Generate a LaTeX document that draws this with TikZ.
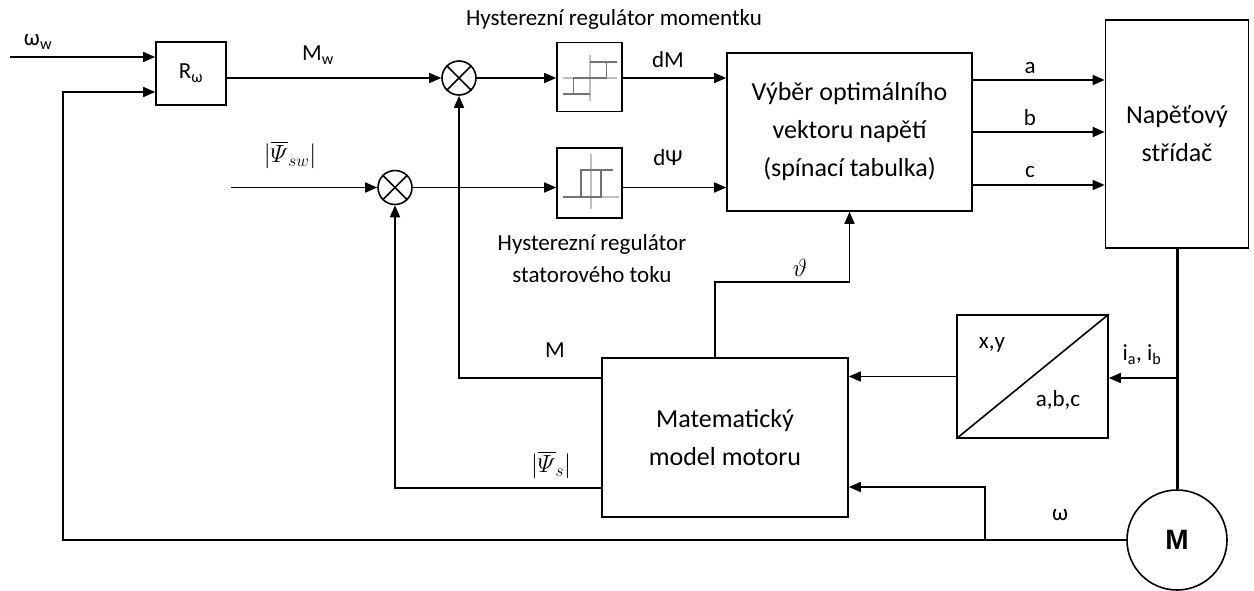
\documentclass[tikz,border=0pt]{standalone}
\usepackage{amsmath}
\usepackage{fontspec}
\setmainfont{Carlito}
\newfontfamily\armo{Liberation Sans}
\usetikzlibrary{arrows.meta,calc}
\tikzset{
 blk/.style={draw, line width=1.6pt, inner sep=0pt},
 ln/.style={line width=1.6pt},
 arr/.style={ln, -{Triangle[length=12pt,width=10pt]}},
 lbl/.style={font=\fontsize{23}{27}\selectfont, inner sep=0pt},
 btxt/.style={font=\fontsize{26}{38}\selectfont, align=center},
 sumc/.style={draw, circle, line width=1.6pt, minimum size=34pt, inner sep=0pt},
 hyc/.style={draw=black!55, line width=1.4pt},
 hyax/.style={draw=black!25, line width=1.2pt},
}
\begin{document}
\begin{tikzpicture}[x=1pt,y=-1pt]
\useasboundingbox (0,0) rectangle (1254,590);
% blocks
\node[blk, minimum width=70pt, minimum height=63pt, font=\fontsize{23}{27}\selectfont] (Rw) at (191,73.5) {R\textsubscript{ω}};
\node[sumc] (c1) at (459,78) {};
\node[sumc] (c2) at (395,187.5) {};
\node[blk, minimum width=65pt, minimum height=69pt] (h1) at (589.5,77) {};
\node[blk, minimum width=65pt, minimum height=70pt] (h2) at (589.5,183) {};
\node[blk, btxt, minimum width=245pt, minimum height=158pt] (sel) at (849.5,132) {Výběr optimálního\\vektoru napětí\\(spínací tabulka)};
\node[blk, btxt, minimum width=143pt, minimum height=228pt] (inv) at (1177,134) {Napěťový\\střídač};
\node[blk, minimum width=151pt, minimum height=123pt] (xy) at (1032.5,376.5) {};
\node[blk, btxt, minimum width=246pt, minimum height=159pt] (mod) at (725,437.5) {Matematický\\model motoru};
\node[blk, circle, minimum size=100pt] (mot) at (1177,540) {\fontsize{28}{30}\armo\bfseries M};
% summation crosses
\foreach \c in {c1,c2}{
  \draw[line width=1.6pt] (\c.north west) -- (\c.south east);
  \draw[line width=1.6pt] (\c.north east) -- (\c.south west);
}
% hysteresis icons
\begin{scope}[shift={(h1.center)}]
  \draw[hyax] (0.5,-22) -- (0.5,24);
  \draw[hyax] (-27,1) -- (27,1);
  \draw[hyc] (-27,17) -- (0,17);
  \draw[hyc] (-16,17) -- (-16,1) -- (17,1) -- (17,-15);
  \draw[hyc] (0,-15) -- (27,-15);
\end{scope}
\begin{scope}[shift={(h2.center)}]
  \draw[hyax] (1.5,-29) -- (1.5,26);
  \draw[hyax] (-27,14) -- (29,14);
  \draw[hyc] (-27,14) -- (11.5,14) -- (11.5,-13);
  \draw[hyc] (-8.5,14) -- (-8.5,-13) -- (23.5,-13);
\end{scope}
% xy/abc converter
\draw[line width=1.6pt] (xy.south west) -- (xy.north east);
\node[lbl] (lxy) at (992,345) {x,y};
\node[lbl] (labc) at (1058,400) {a,b,c};
% coordinates
\coordinate (wIn) at (10,57);
\coordinate (fbC) at (63,92);
\coordinate (psIn) at (231,187.5);
\coordinate (ya) at (0,80);
\coordinate (yb) at (0,132);
\coordinate (yc) at (0,185);
\coordinate (iab) at (1177,378);
\coordinate (wb) at (985,540);
\coordinate (wm) at (985,487);
\coordinate (th1) at (715,282);
\coordinate (mo) at (0,378);
\coordinate (po) at (0,488);
% connectors
\draw[arr] (wIn) -- (wIn -| Rw.west);
\draw[arr] (mot.west) -| (fbC) -- (fbC -| Rw.west);
\draw[arr] (Rw.east |- c1) -- (c1.west);
\draw[arr] (c1.east) -- (c1.east -| h1.west);
\draw[arr] (h1.east |- c1) -- (sel.west |- c1);
\draw[arr] (psIn) -- (c2.west);
\draw[arr] (c2.east) -- (c2.east -| h2.west);
\draw[arr] (h2.east |- c2) -- (sel.west |- c2);
\draw[arr] (sel.east |- ya) -- (inv.west |- ya);
\draw[arr] (sel.east |- yb) -- (inv.west |- yb);
\draw[arr] (sel.east |- yc) -- (inv.west |- yc);
\draw[line width=3pt] (inv.south) -- (mot.north);
\draw[arr] (iab) -- (xy.east |- iab);
\draw[arr] (xy.west) -- (xy.west -| mod.east);
\draw[arr] (wb) -- (wm) -- (wm -| mod.east);
\draw[arr] (th1 |- mod.north) -- (th1) -| (sel.south);
\draw[arr] (mod.west |- mo) -| (c1.south);
\draw[arr] (mod.west |- po) -| (c2.south);
% labels
\node[lbl] (lww) at (38,42) {ω\textsubscript{w}};
\node[lbl] (lmw) at (318,55) {M\textsubscript{w}};
\node[lbl] (ldm) at (668,60) {dM};
\node[lbl] (ldp) at (668,158) {dΨ};
\node[lbl, font=\fontsize{26}{30}\selectfont] (lpsw) at (290,155) {$\lvert\overline{\varPsi}_{sw}\rvert$};
\node[lbl] (lh1) at (614,19) {Hysterezní regulátor momentku};
\node[lbl, align=center, font=\fontsize{23}{32}\selectfont] (lh2) at (592,259) {Hysterezní regulátor\\statorového toku};
\node[lbl] (la) at (1030,68) {a};
\node[lbl] (lb) at (1030,118) {b};
\node[lbl] (lc) at (1030,172) {c};
\node[lbl] (lth) at (800,268) {$\vartheta$};
\node[lbl] (lm) at (555,350) {M};
\node[lbl, font=\fontsize{26}{30}\selectfont] (lps) at (551,465) {$\lvert\overline{\varPsi}_{s}\rvert$};
\node[lbl] (liab) at (1142,355) {i\textsubscript{a}, i\textsubscript{b}};
\node[lbl] (lw) at (1060,515) {ω};
\end{tikzpicture}
\end{document}
